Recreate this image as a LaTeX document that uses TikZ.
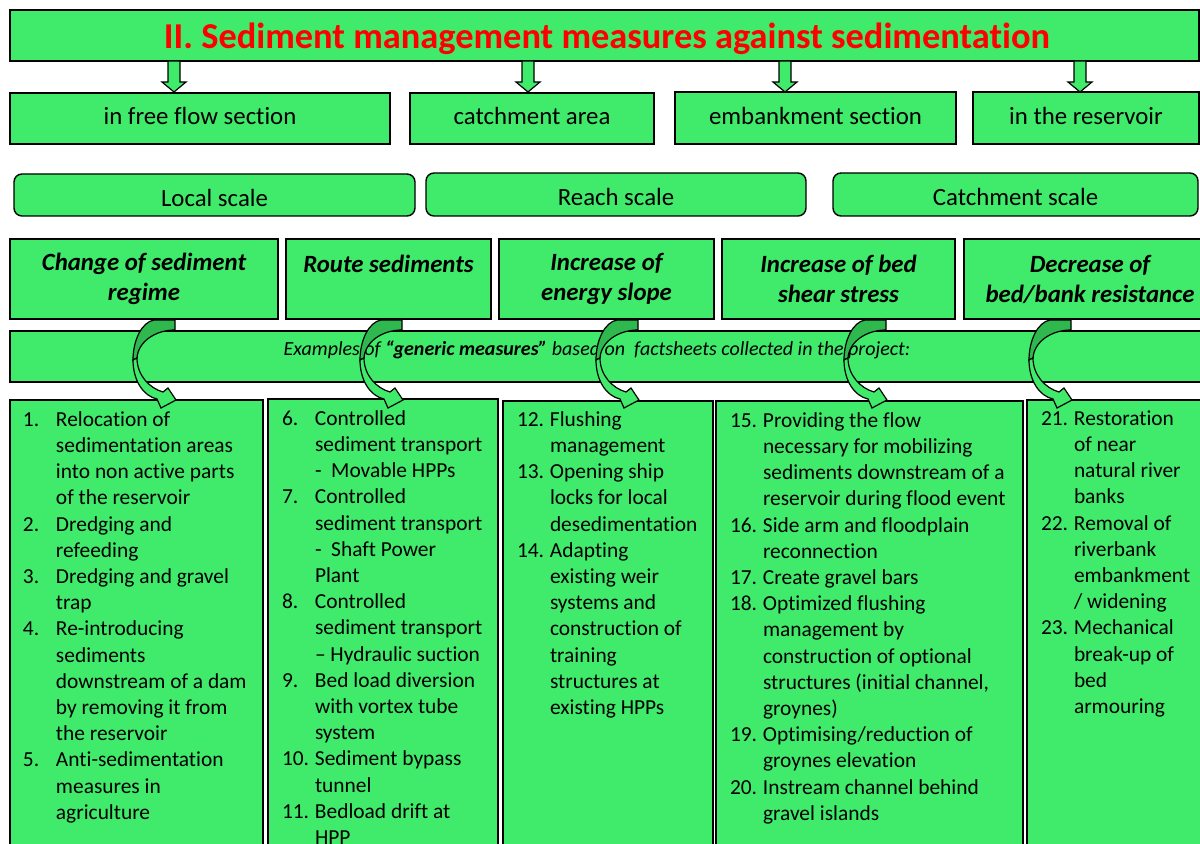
\documentclass[tikz,border=0pt]{standalone}
\usepackage{fontspec}
\setmainfont{Carlito}[Ligatures=NoCommon]
\usetikzlibrary{calc}

\definecolor{boxgreen}{RGB}{64,234,106}
\definecolor{backgreen}{RGB}{46,184,78}
\definecolor{titlered}{RGB}{255,0,0}

\tikzset{
  greenbox/.style={draw=black, line width=0.7pt, fill=boxgreen, inner sep=0pt, outer sep=0pt},
  placebox/.style={greenbox, font=\fontsize{12.4}{15}\selectfont, text height=9.3pt, text depth=3pt},
  scalebox/.style={greenbox, rounded corners=4pt, font=\fontsize{12.4}{15}\selectfont, text height=11.3pt, text depth=0pt},
  aimbox/.style={greenbox, line width=0.8pt, align=center, font=\fontsize{12.4}{15}\selectfont\bfseries\itshape},
  listtext/.style={anchor=north west, inner sep=0pt, outer sep=0pt, font=\fontsize{10.7}{13.1}\selectfont},
  downarrow/.style={fill=boxgreen, draw=black, line width=0.6pt, line join=miter},
  bandback/.style={fill=backgreen, draw=black, line width=0.6pt},
  bandfront/.style={fill=boxgreen, draw=black, line width=0.6pt, line join=miter}
}

% straight block arrow, top centre at #1
\newcommand\downblock[1]{%
  \begin{scope}[shift={#1}]
    \path[downarrow] (-6,0) -- (6,0) -- (6,21) -- (12,21) -- (0,31) -- (-12,21) -- (-6,21) -- cycle;
  \end{scope}}

% curved band arrow, tail corner at #1
\newcommand\bendarrow[1]{%
  \begin{scope}[shift={#1}]
    \path[bandback] (0,0) -- (-21,0) .. controls (-33,2) and (-42,20) .. (-42,40)
      -- (-38,38) .. controls (-37,22) and (-20,10) .. (0,10) -- cycle;
    \path[bandfront] (-42,40) .. controls (-42,60) and (-32,76) .. (-18,79)
      -- (-14,88) -- (1,80) -- (-7,68) -- (-12,72)
      .. controls (-26,68) and (-38,55) .. (-38,38) -- cycle;
  \end{scope}}

\begin{document}
\begin{tikzpicture}[x=0.5pt, y=-0.5pt]
\useasboundingbox (0,0) rectangle (1200,844);
\clip (0,0) rectangle (1200,844);

% heading
\node[greenbox, minimum width=594.5pt, minimum height=25.5pt] (title) at (604.5,35.5) {};
\node[font=\fontsize{18.2}{21}\selectfont\bfseries, text=titlered, inner sep=0pt] (titletext) at (607,39)
  {II. Sediment management measures against sedimentation};

% where the measures act
\node[placebox, minimum width=190pt, minimum height=25.5pt] (free) at (200,118.5) {in free flow section};
\node[placebox, minimum width=122pt, minimum height=25.5pt] (catch) at (532,118.5) {catchment area};
\node[placebox, minimum width=140.5pt, minimum height=26pt] (emb) at (815.5,118) {embankment section};
\node[placebox, minimum width=113pt, minimum height=26pt] (res) at (1086,118) {in the reservoir};

\downblock{($(title.south west)+(164,0)$)}
\downblock{($(title.south west)+(518,0)$)}
\downblock{($(title.south west)+(775,0)$)}
\downblock{($(title.south west)+(1070,0)$)}

% scales
\node[scalebox, minimum width=200.5pt, minimum height=21pt] (local) at (214.5,195) {Local scale};
\node[scalebox, minimum width=190pt, minimum height=21.5pt] (reach) at (616,194.5) {Reach scale};
\node[scalebox, minimum width=182.5pt, minimum height=21.5pt] (catchsc) at (1015.5,194.5) {Catchment scale};

% aims
\node[aimbox, minimum width=134pt, minimum height=40pt] (regime) at (144,279) {Change of sediment\\regime};
\node[aimbox, minimum width=102.5pt, minimum height=40pt] (route) at (388.5,279) {Route sediments\\\mbox{}};
\node[aimbox, minimum width=107.5pt, minimum height=40pt] (slope) at (606.5,279) {Increase of\\energy slope};
\node[aimbox, minimum width=116.5pt, minimum height=40pt] (shear) at (838.5,279) {Increase of bed\\shear stress};
\node[aimbox, minimum width=126pt, minimum height=40pt] (resist) at (1090,279) {Decrease of\\bed/bank resistance};

% banner
\node[greenbox, minimum width=602.5pt, minimum height=25.5pt] (bar) at (612.5,356.5) {};
\node[font=\fontsize{10}{12}\selectfont\itshape, inner sep=0pt] (barlabel) at (597,350)
  {Examples of \textbf{“generic measures”} based on\ \ factsheets collected in the project:};

% measure lists
\node[greenbox, minimum width=126.5pt, minimum height=230pt] (list1) at (136.5,630) {};
\node[greenbox, minimum width=115pt, minimum height=230.5pt] (list2) at (383,629.5) {};
\node[greenbox, minimum width=105pt, minimum height=229.5pt] (list3) at (608,630.5) {};
\node[greenbox, minimum width=153.5pt, minimum height=229.5pt] (list4) at (869.5,630.5) {};
\node[greenbox, minimum width=94pt, minimum height=230pt] (list5) at (1121,630) {};

\node[listtext] (items1) at ($(list1.north west)+(13,8)$) {%
\begin{tabular}{@{}p{16.5pt}@{}l@{}}
1. & Relocation of\\
   & sedimentation areas\\
   & into non active parts\\
   & of the reservoir\\
2. & Dredging and\\
   & refeeding\\
3. & Dredging and gravel\\
   & trap\\
4. & Re-introducing\\
   & sediments\\
   & downstream of a dam\\
   & by removing it from\\
   & the reservoir\\
5. & Anti-sedimentation\\
   & measures in\\
   & agriculture
\end{tabular}};

\node[listtext] (items2) at ($(list2.north west)+(14,8)$) {%
\begin{tabular}{@{}p{16.5pt}@{}l@{}}
6. & Controlled\\
   & sediment transport\\
   & -\ \ Movable HPPs\\
7. & Controlled\\
   & sediment transport\\
   & -\ \ Shaft Power\\
   & Plant\\
8. & Controlled\\
   & sediment transport\\
   & – Hydraulic suction\\
9. & Bed load diversion\\
   & with vortex tube\\
   & system\\
10. & Sediment bypass\\
   & tunnel\\
11. & Bedload drift at\\
   & HPP
\end{tabular}};

\node[listtext] (items3) at ($(list3.north west)+(14,7)$) {%
\begin{tabular}{@{}p{16.5pt}@{}l@{}}
12. & Flushing\\
   & management\\
13. & Opening ship\\
   & locks for local\\
   & desedimentation\\
14. & Adapting\\
   & existing weir\\
   & systems and\\
   & construction of\\
   & training\\
   & structures at\\
   & existing HPPs
\end{tabular}};

\node[listtext] (items4) at ($(list4.north west)+(14,8)$) {%
\begin{tabular}{@{}p{16.5pt}@{}l@{}}
15. & Providing the flow\\
   & necessary for mobilizing\\
   & sediments downstream of a\\
   & reservoir during flood event\\
16. & Side arm and floodplain\\
   & reconnection\\
17. & Create gravel bars\\
18. & Optimized flushing\\
   & management by\\
   & construction of optional\\
   & structures (initial channel,\\
   & groynes)\\
19. & Optimising/reduction of\\
   & groynes elevation\\
20. & Instream channel behind\\
   & gravel islands
\end{tabular}};

\node[listtext] (items5) at ($(list5.north west)+(14,7)$) {%
\begin{tabular}{@{}p{16.5pt}@{}l@{}}
21. & Restoration\\
   & of near\\
   & natural river\\
   & banks\\
22. & Removal of\\
   & riverbank\\
   & embankment\\
   & / widening\\
23. & Mechanical\\
   & break-up of\\
   & bed\\
   & armouring
\end{tabular}};

% bent arrows from each aim down to its list
\bendarrow{($(regime.south west)+(165,1)$)}
\bendarrow{($(route.south west)+(116,1)$)}
\bendarrow{($(slope.south west)+(139,1)$)}
\bendarrow{($(shear.south west)+(164,1)$)}
\bendarrow{($(resist.south west)+(107,1)$)}
\end{tikzpicture}
\end{document}
